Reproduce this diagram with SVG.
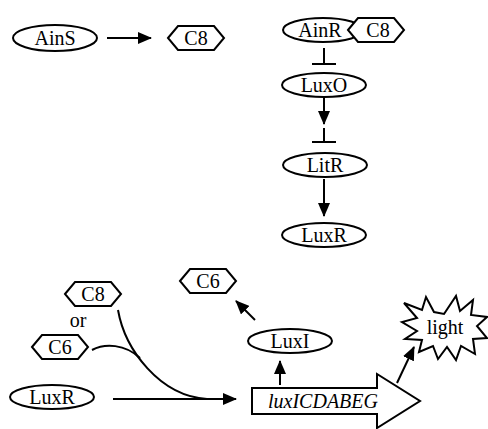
<svg xmlns="http://www.w3.org/2000/svg" width="488" height="429" viewBox="0 0 488 429">
<style>
.n{fill:#fff;stroke:#000;stroke-width:2}
.t{font-family:"Liberation Serif","Times New Roman","DejaVu Serif",serif;font-size:20px;fill:#000;text-anchor:middle}
.c{fill:none;stroke:#000;stroke-width:2}
</style>
<defs>
<marker id="ah" viewBox="0 0 14 12" refX="13" refY="6" markerWidth="14" markerHeight="12" markerUnits="userSpaceOnUse" orient="auto">
<path d="M0,0 L14,6 L0,12 Z" fill="#000"/>
</marker>
<path id="hex" d="M-28,0 L-18,-12 L18,-12 L28,0 L18,12 L-18,12 Z"/>
</defs>
<rect width="488" height="429" fill="#fff"/>
<g id="connectors">
<line class="c" x1="107" y1="38" x2="151" y2="38" marker-end="url(#ah)"/>
<path class="c" d="M324,48 V64 M312,64 H336"/>
<line class="c" x1="324" y1="98" x2="324" y2="124" marker-end="url(#ah)"/>
<path class="c" d="M324,128 V142 M312,142 H336"/>
<line class="c" x1="324" y1="179" x2="324" y2="216" marker-end="url(#ah)"/>
<path class="c" d="M118,310 C125,350 160,396 207,399"/>
<path class="c" d="M92,350 C105,343 125,344 140,358"/>
<line class="c" x1="113" y1="399" x2="236" y2="399" marker-end="url(#ah)"/>
<line class="c" x1="280" y1="385" x2="280" y2="361" marker-end="url(#ah)"/>
<line class="c" x1="255" y1="320" x2="236" y2="301" marker-end="url(#ah)"/>
<line class="c" x1="397" y1="383" x2="414" y2="347" marker-end="url(#ah)"/>
</g>
<g id="AinS"><ellipse class="n" cx="55" cy="38" rx="42" ry="13"/><text class="t" x="55" y="45">AinS</text></g>
<g id="C8a"><use href="#hex" class="n" x="196" y="38"/><text class="t" x="196" y="45">C8</text></g>
<g id="AinR"><ellipse class="n" cx="323" cy="30" rx="40" ry="12"/><text class="t" x="320" y="37">AinR</text></g>
<g id="C8b"><use href="#hex" class="n" x="376" y="30"/><text class="t" x="378" y="37">C8</text></g>
<g id="LuxO"><ellipse class="n" cx="324" cy="85" rx="42" ry="12"/><text class="t" x="324" y="92">LuxO</text></g>
<g id="LitR"><ellipse class="n" cx="325" cy="165" rx="42" ry="12"/><text class="t" x="325" y="172">LitR</text></g>
<g id="LuxR1"><ellipse class="n" cx="324" cy="235" rx="42" ry="12"/><text class="t" x="324" y="242">LuxR</text></g>
<g id="C8c"><use href="#hex" class="n" x="93" y="294"/><text class="t" x="93" y="301">C8</text></g>
<g id="or"><text class="t" x="78" y="327">or</text></g>
<g id="C6a"><use href="#hex" class="n" x="60" y="347"/><text class="t" x="60" y="354">C6</text></g>
<g id="LuxR2"><ellipse class="n" cx="52" cy="397" rx="42" ry="12"/><text class="t" x="52" y="404">LuxR</text></g>
<g id="C6b"><use href="#hex" class="n" x="208" y="281"/><text class="t" x="208" y="288">C6</text></g>
<g id="LuxI"><ellipse class="n" cx="290" cy="341" rx="42" ry="12"/><text class="t" x="290" y="348">LuxI</text></g>
<g id="lux"><path class="n" d="M252,388 H377 V374 L420,401 L377,428 V414 H252 Z"/><text class="t" x="323" y="408" font-style="italic">luxICDABEG</text></g>
<g id="light"><path class="n" d="M444,314 L456,296 L460,311 L473,300 L471,315 L487,317 L477,326 L487,338 L473,339 L475,354 L461,346 L456,360 L447,347 L438,359 L433,346 L419,352 L422,340 L405,339 L417,331 L402,322 L417,318 L404,303 L422,310 L426,297 L434,312 Z"/><text class="t" x="445" y="334">light</text></g>
</svg>
